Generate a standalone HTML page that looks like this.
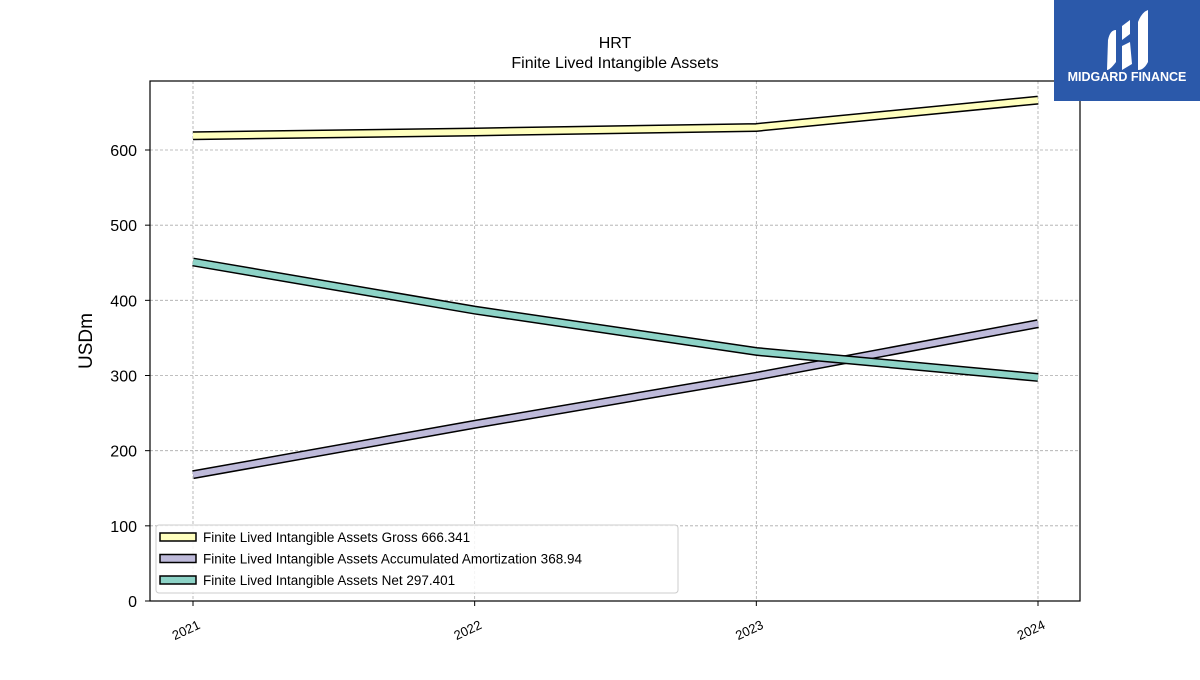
<!DOCTYPE html>
<html><head><meta charset="utf-8"><style>
body{margin:0;background:#fff;font-family:"Liberation Sans","DejaVu Sans",sans-serif}
</style></head><body>
<svg id="c" width="1200" height="675" xmlns="http://www.w3.org/2000/svg">
<rect width="1200" height="675" fill="#fff"/>
<text x="615" y="48" text-anchor="middle" font-size="16">HRT</text>
<text x="615" y="68" text-anchor="middle" font-size="16">Finite Lived Intangible Assets</text>
<g id="grid"></g>
<g id="lines"></g>
<rect x="150" y="81" width="930" height="520" fill="none" stroke="#000" stroke-width="1.2"/>
<g id="axes"></g>
<text transform="translate(92,341) rotate(-90)" text-anchor="middle" font-size="19">USDm</text>
<g id="legend"></g>
<g>
<rect x="1054" y="0" width="146" height="101" fill="#2b59aa"/>
<path d="M1108 40 Q1110 30 1116 30 L1116 62 Q1110 70 1107 70 Z" fill="#fff"/>
<path d="M1122 26 L1130 20 L1130 34 L1122 40 Z M1122 46 L1130 42 L1132 64 L1122 70 Z" fill="#fff"/>
<path d="M1138 22 Q1142 12 1148 10 L1148 62 Q1144 70 1138 70 Z" fill="#fff"/>
<text x="1127" y="81" text-anchor="middle" font-size="12.5" font-weight="bold" fill="#fff">MIDGARD FINANCE</text>
</g>
</svg>
<script>
const years=["2021","2022","2023","2024"];
const gross=[619,624,630,666.341];
const amort=[168,235,299,368.94];
const net=[451,387,332,297.401];
const yTicks=[0,100,200,300,400,500,600];
const seriesNames=["Finite Lived Intangible Assets Gross  666.341","Finite Lived Intangible Assets Accumulated Amortization  368.94","Finite Lived Intangible Assets Net  297.401"];
const colors=["#ffffbe","#bebada","#8dd3c7"];
const NS="http://www.w3.org/2000/svg";
const x=i=>193+i*(1038-193)/3;
const y=v=>601-v*(451/600);
function mk(t,a,p){const e=document.createElementNS(NS,t);for(const k in a)e.setAttribute(k,a[k]);p.appendChild(e);return e;}
const grid=document.getElementById('grid'),axes=document.getElementById('axes'),lines=document.getElementById('lines'),leg=document.getElementById('legend');
yTicks.forEach(v=>{
 if(v>0){const g=mk('line',{x1:150,x2:1080,y1:y(v),y2:y(v),stroke:'#aaa','stroke-dasharray':'3,2','stroke-width':0.8},grid);
 
 }
 mk('line',{x1:145,x2:150,y1:y(v),y2:y(v),stroke:'#000'},axes);
 const t=mk('text',{x:137,y:y(v)+6,'text-anchor':'end','font-size':16},axes);t.textContent=v;
 
 
});
years.forEach((yr,i)=>{
 const g=mk('line',{x1:x(i),x2:x(i),y1:81,y2:601,stroke:'#aaa','stroke-dasharray':'3,2','stroke-width':0.8},grid);
 
 
 mk('line',{x1:x(i),x2:x(i),y1:601,y2:606,stroke:'#000'},axes);
 const t=mk('text',{transform:`translate(${x(i)+8},${628}) rotate(-25)`,'text-anchor':'end','font-size':13},axes);t.textContent=yr;
 
 
});
[gross,amort,net].forEach((s,k)=>{
 const pts=s.map((v,i)=>x(i)+','+y(v)).join(' ');
 const o=mk('polyline',{points:pts,fill:'none',stroke:'#000','stroke-width':9},lines);
 
 
 const l=mk('polyline',{points:pts,fill:'none',stroke:colors[k],'stroke-width':6},lines);
 
 
});
const lb=mk('rect',{x:156,y:525,width:522,height:68,rx:3,fill:'#fff','fill-opacity':0.85,stroke:'#ccc'},leg);


seriesNames.forEach((n,k)=>{
 const yy=537+k*21.5;
 const r=mk('rect',{x:160,y:yy-4,width:36,height:8,fill:colors[k],stroke:'#000','stroke-width':1.5},leg);
 
 
 const t=mk('text',{x:203,y:yy+5,'font-size':13.5},leg);t.textContent=n;
 
 
});
</script>
</body></html>
